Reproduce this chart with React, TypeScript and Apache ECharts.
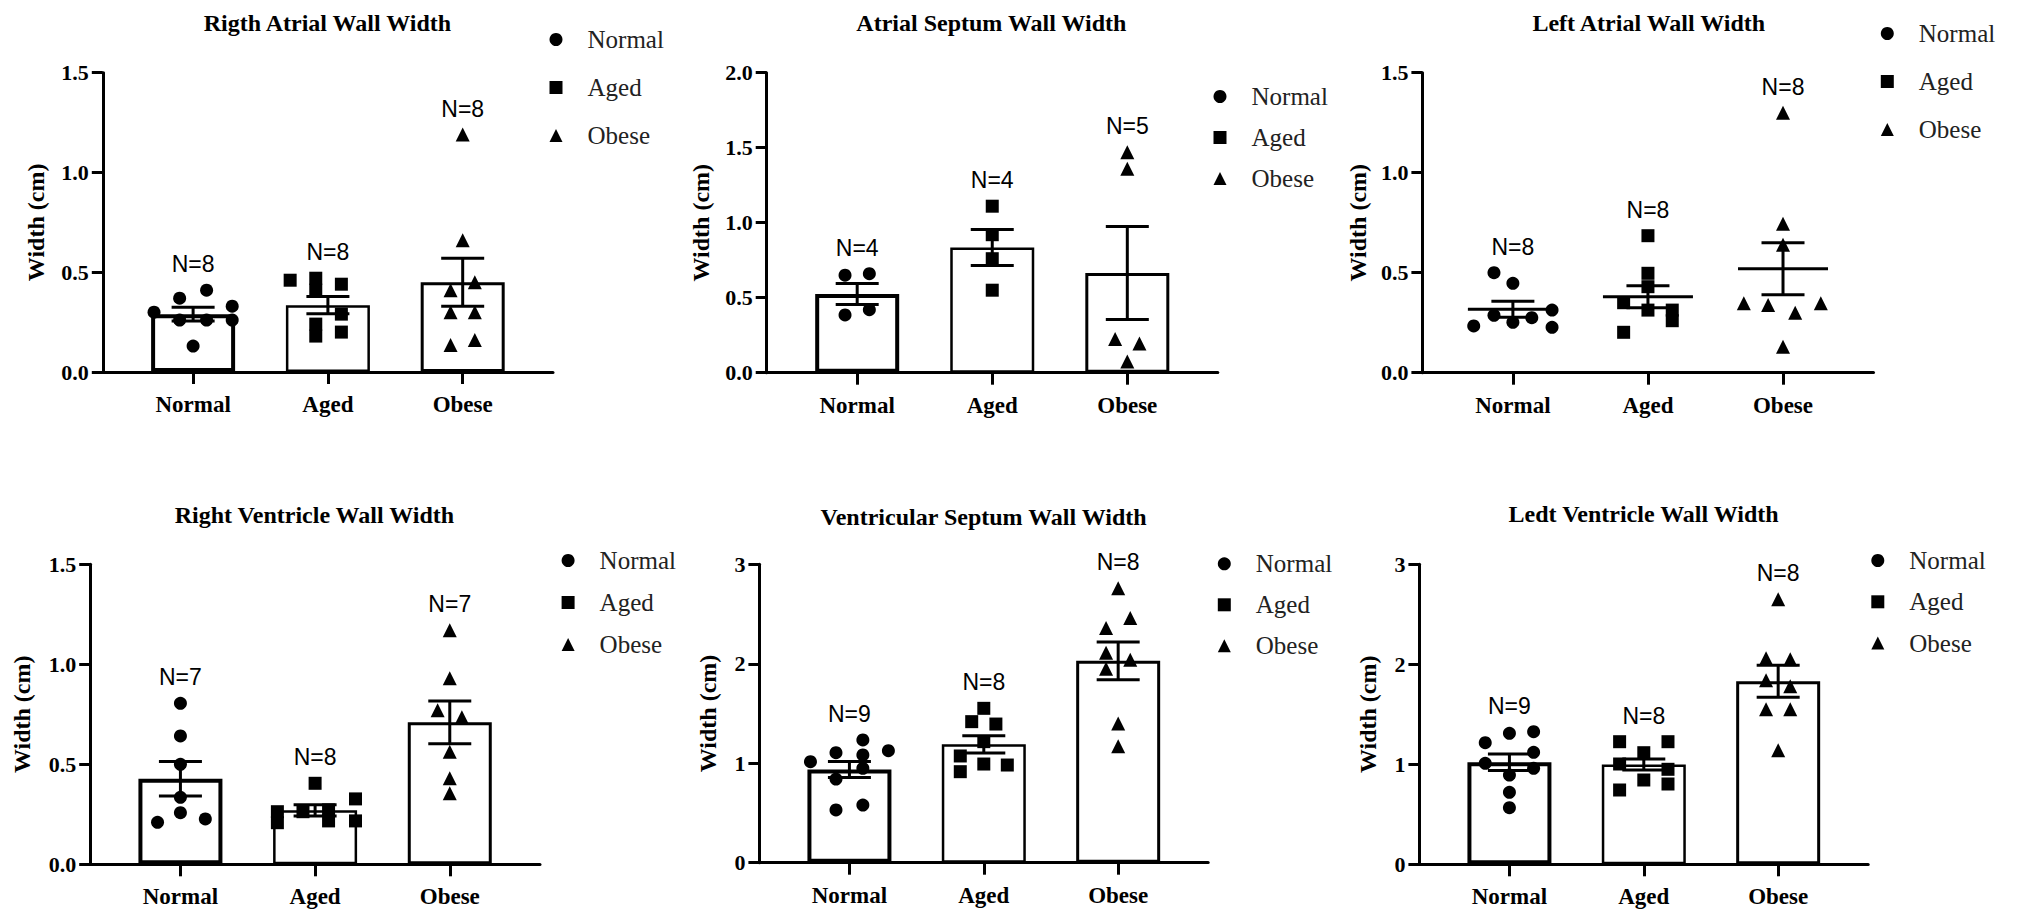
import React, { useEffect, useRef } from "react";
import * as echarts from "echarts";

// ---------- data ----------
const categories = ["Normal", "Aged", "Obese"];
const titles = [
  "Rigth Atrial Wall Width",
  "Atrial Septum Wall Width",
  "Left Atrial Wall Width",
  "Right Ventricle Wall Width",
  "Ventricular Septum Wall Width",
  "Ledt Ventricle Wall Width",
];
const yAxisName = "Width (cm)";

// Rigth Atrial
const ra_normal = [0.3, 0.37, 0.41, 0.33, 0.26, 0.26, 0.26, 0.13];
const ra_normal_jit = [-0.29, -0.1, 0.1, 0.29, -0.1, 0.1, 0.29, 0];
const ra_aged = [0.46, 0.47, 0.41, 0.44, 0.29, 0.24, 0.18, 0.2];
const ra_aged_jit = [-0.28, -0.09, -0.09, 0.1, 0.1, -0.09, -0.09, 0.1];
const ra_obese = [1.19, 0.66, 0.41, 0.45, 0.3, 0.3, 0.135, 0.16];
const ra_obese_jit = [0, 0, -0.09, 0.09, -0.09, 0.09, -0.09, 0.09];
const ra_mean = [0.29, 0.335, 0.45];
const ra_sem = [0.035, 0.043, 0.12];

// Atrial Septum
const as_normal = [0.65, 0.66, 0.385, 0.42];
const as_normal_jit = [-0.09, 0.09, -0.09, 0.09];
const as_aged = [1.11, 0.92, 0.76, 0.55];
const as_aged_jit = [0, 0, 0, 0];
const as_obese = [1.47, 1.36, 0.225, 0.195, 0.075];
const as_obese_jit = [0, 0, -0.09, 0.09, 0];
const as_mean = [0.525, 0.835, 0.665];
const as_sem = [0.07, 0.12, 0.31];

// Left Atrial
const la_normal = [0.234, 0.5, 0.447, 0.287, 0.252, 0.275, 0.313, 0.227];
const la_normal_jit = [-0.29, -0.14, 0, -0.14, 0, 0.14, 0.29, 0.29];
const la_aged = [0.685, 0.497, 0.43, 0.313, 0.35, 0.313, 0.26, 0.202];
const la_aged_jit = [0, 0, 0, 0, -0.18, 0.18, 0.18, -0.18];
const la_obese = [1.3, 0.745, 0.64, 0.347, 0.339, 0.3, 0.347, 0.13];
const la_obese_jit = [0, 0, 0, -0.29, -0.11, 0.09, 0.28, 0];
const la_mean = [0.317, 0.38, 0.52];
const la_sem = [0.04, 0.055, 0.13];

// Right Ventricle
const rv_normal = [0.805, 0.642, 0.5, 0.335, 0.258, 0.21, 0.227];
const rv_normal_jit = [0, 0, 0, 0, 0, -0.17, 0.185];
const rv_aged = [0.405, 0.263, 0.208, 0.263, 0.272, 0.217, 0.327, 0.217];
const rv_aged_jit = [0, -0.28, -0.28, -0.09, 0.1, 0.1, 0.3, 0.3];
const rv_obese = [1.17, 0.93, 0.77, 0.735, 0.563, 0.43, 0.355];
const rv_obese_jit = [0, 0, -0.09, 0.09, 0, 0, 0];
const rv_mean = [0.428, 0.27, 0.71];
const rv_sem = [0.086, 0.028, 0.107];

// Ventricular Septum
const vs_normal = [1.015, 1.106, 1.234, 1.083, 1.126, 0.949, 0.841, 0.53, 0.58];
const vs_normal_jit = [-0.29, -0.1, 0.1, 0.1, 0.29, 0.1, -0.1, -0.1, 0.1];
const vs_aged = [1.552, 1.418, 1.394, 1.217, 1.073, 0.992, 0.982, 0.915];
const vs_aged_jit = [0, -0.09, 0.09, 0, -0.175, 0, 0.175, -0.175];
const vs_obese = [2.76, 2.46, 2.36, 2.11, 2.04, 1.95, 1.4, 1.17];
const vs_obese_jit = [0, 0.09, -0.09, -0.09, 0.09, -0.09, 0, 0];
const vs_mean = [0.937, 1.19, 2.03];
const vs_sem = [0.08, 0.086, 0.19];

// Ledt Ventricle
const lv_normal = [1.216, 1.31, 1.326, 1.12, 1.01, 0.96, 0.893, 0.72, 0.566];
const lv_normal_jit = [-0.18, 0, 0.18, 0.18, -0.18, 0.18, 0, 0, 0];
const lv_aged = [1.226, 1.226, 1.116, 1.003, 0.95, 0.843, 0.803, 0.743];
const lv_aged_jit = [-0.18, 0.18, 0, -0.18, 0.18, 0, 0.18, -0.18];
const lv_obese = [2.65, 2.06, 2.05, 1.84, 1.78, 1.55, 1.55, 1.14];
const lv_obese_jit = [0, -0.09, 0.09, -0.09, 0.09, -0.09, 0.09, 0];
const lv_mean = [1.02, 0.998, 1.83];
const lv_sem = [0.083, 0.055, 0.16];

// y-axis ranges
const yMaxes = [1.5, 2.0, 1.5, 1.5, 3, 3];
const yIntervals = [0.5, 0.5, 0.5, 0.5, 1, 1];
const yDecimals = [1, 1, 1, 1, 0, 0];
const hasBars = [true, true, false, true, true, true];

// ---------- layout / style ----------
const SERIF = '"Liberation Serif", "Times New Roman", serif';
const SANS = '"Liberation Sans", Arial, sans-serif';
const X_MIN = -0.67;
const X_MAX = 2.67;

const layouts = [
  { grid: [102.8, 72.7, 450.2, 299.3], title: [327.4, 23], legend: [556, 39], pitch: 47, nameGap: 55 },
  { grid: [766.7, 72.7, 451.1, 300], title: [991.4, 23], legend: [1220, 96], pitch: 40, nameGap: 54 },
  { grid: [1422.4, 72.7, 451.1, 300], title: [1648.8, 23], legend: [1887.3, 33], pitch: 47, nameGap: 52 },
  { grid: [90.2, 564.3, 449.8, 300], title: [314.4, 515], legend: [568.1, 560], pitch: 41, nameGap: 56 },
  { grid: [759.4, 564.3, 448.8, 298.4], title: [983.6, 516.7], legend: [1224.3, 563.3], pitch: 40, nameGap: 39 },
  { grid: [1419.4, 564.3, 448.8, 300], title: [1643.6, 514.3], legend: [1877.8, 560], pitch: 40.3, nameGap: 39 },
];

const groups = [
  [ra_normal, ra_normal_jit, ra_aged, ra_aged_jit, ra_obese, ra_obese_jit, ra_mean, ra_sem],
  [as_normal, as_normal_jit, as_aged, as_aged_jit, as_obese, as_obese_jit, as_mean, as_sem],
  [la_normal, la_normal_jit, la_aged, la_aged_jit, la_obese, la_obese_jit, la_mean, la_sem],
  [rv_normal, rv_normal_jit, rv_aged, rv_aged_jit, rv_obese, rv_obese_jit, rv_mean, rv_sem],
  [vs_normal, vs_normal_jit, vs_aged, vs_aged_jit, vs_obese, vs_obese_jit, vs_mean, vs_sem],
  [lv_normal, lv_normal_jit, lv_aged, lv_aged_jit, lv_obese, lv_obese_jit, lv_mean, lv_sem],
];

const symbols = ["circle", "rect", "triangle"];
const symbolSizes = [13, 13, 14];
const barBorders = [4, 2.5, 3];

function buildOption() {
  const grid: any[] = [];
  const xAxis: any[] = [];
  const yAxis: any[] = [];
  const title: any[] = [];
  const legend: any[] = [];
  const series: any[] = [];

  layouts.forEach((L, i) => {
    const [normal, normalJit, aged, agedJit, obese, obeseJit, mean, sem] = groups[i] as number[][];
    grid.push({ left: L.grid[0], top: L.grid[1], width: L.grid[2], height: L.grid[3], containLabel: false });
    xAxis.push({
      gridIndex: i,
      type: "value",
      min: X_MIN,
      max: X_MAX,
      axisLine: { show: true, onZero: false, lineStyle: { color: "#000", width: 3 } },
      axisTick: { show: true, length: 12, customValues: [0, 1, 2], lineStyle: { color: "#000", width: 3 } },
      axisLabel: {
        show: true,
        customValues: [0, 1, 2],
        formatter: (v: number) => categories[Math.round(v)] ?? "",
        margin: 21,
        fontFamily: SERIF,
        fontWeight: "bold",
        fontSize: 23,
        color: "#000",
      },
      splitLine: { show: false },
    });
    const dec = yDecimals[i];
    yAxis.push({
      gridIndex: i,
      type: "value",
      min: 0,
      max: yMaxes[i],
      interval: yIntervals[i],
      name: yAxisName,
      nameLocation: "middle",
      nameRotate: 90,
      nameGap: L.nameGap,
      nameTextStyle: { fontFamily: SERIF, fontWeight: "bold", fontSize: 24, color: "#000" },
      axisLine: { show: true, onZero: false, lineStyle: { color: "#000", width: 3 } },
      axisTick: { show: true, length: 11, lineStyle: { color: "#000", width: 3 } },
      axisLabel: {
        margin: 14,
        fontFamily: SERIF,
        fontWeight: "bold",
        fontSize: 22,
        color: "#000",
        formatter: (v: number) => v.toFixed(dec),
      },
      splitLine: { show: false },
    });
    title.push({
      text: titles[i],
      left: L.title[0],
      top: L.title[1] - 12,
      textAlign: "center",
      padding: 0,
      textStyle: { fontFamily: SERIF, fontWeight: "bold", fontSize: 24, lineHeight: 24, color: "#000" },
    });
    legend.push({
      orient: "vertical",
      left: L.legend[0] - 6.5,
      top: L.legend[1] - 12,
      itemGap: L.pitch - 24,
      itemWidth: 13,
      itemHeight: 13,
      padding: 0,
      selectedMode: false,
      data: categories.map((c, k) => ({ name: c, icon: symbols[k] })),
      itemStyle: { color: "#000" },
      textStyle: { fontFamily: SERIF, fontSize: 25, lineHeight: 24, color: "#222", padding: [0, 0, 0, 20] },
    });

    if (hasBars[i]) {
      series.push({
        type: "bar",
        xAxisIndex: i,
        yAxisIndex: i,
        barWidth: 84,
        z: 1,
        silent: true,
        data: mean.map((m, k) => ({
          value: [k, m],
          itemStyle: { color: "#fff", borderColor: "#000", borderWidth: barBorders[k] },
        })),
      });
    }

    const pts = [
      [normal, normalJit],
      [aged, agedJit],
      [obese, obeseJit],
    ];
    pts.forEach(([vals, jit], k) => {
      series.push({
        type: "scatter",
        name: categories[k],
        xAxisIndex: i,
        yAxisIndex: i,
        symbol: symbols[k],
        symbolSize: symbolSizes[k],
        itemStyle: { color: "#000", opacity: 1 },
        z: 3,
        silent: true,
        data: vals.map((v, n) => [k + jit[n], v]),
      });
    });

    const showBars = hasBars[i];
    series.push({
      type: "custom",
      xAxisIndex: i,
      yAxisIndex: i,
      z: 4,
      silent: true,
      clip: false,
      encode: { x: 0, y: 1 },
      data: mean.map((m, k) => [k, m, sem[k]]),
      renderItem: (params: any, api: any) => {
        const x = api.value(0);
        const m = api.value(1);
        const s = api.value(2);
        const c = api.coord([x, m]);
        const hi = api.coord([x, m + s]);
        const lo = api.coord([x, m - s]);
        const style = { stroke: "#000", lineWidth: 3 };
        const cap = 21.5;
        const children: any[] = [
          { type: "line", shape: { x1: c[0], y1: hi[1], x2: c[0], y2: lo[1] }, style },
          { type: "line", shape: { x1: c[0] - cap, y1: hi[1], x2: c[0] + cap, y2: hi[1] }, style },
          { type: "line", shape: { x1: c[0] - cap, y1: lo[1], x2: c[0] + cap, y2: lo[1] }, style },
        ];
        if (!showBars) {
          children.push({ type: "line", shape: { x1: c[0] - 45, y1: c[1], x2: c[0] + 45, y2: c[1] }, style });
        }
        return { type: "group", children };
      },
    });

    // N= labels above each group's highest point
    series.push({
      type: "scatter",
      xAxisIndex: i,
      yAxisIndex: i,
      symbol: "circle",
      symbolSize: 1,
      silent: true,
      z: 5,
      itemStyle: { color: "rgba(0,0,0,0)" },
      label: {
        show: true,
        position: "top",
        distance: 14,
        fontFamily: SANS,
        fontSize: 23,
        color: "#000",
        opacity: 1,
        formatter: (p: any) => "N=" + p.data[2],
      },
      data: pts.map(([vals], k) => [k, Math.max(...vals), vals.length]),
    });
  });

  return {
    animation: false,
    backgroundColor: "#fff",
    title,
    legend,
    grid,
    xAxis,
    yAxis,
    series,
  };
}

export default function App() {
  const ref = useRef<HTMLDivElement>(null);
  useEffect(() => {
    if (!ref.current) return;
    const chart = echarts.init(ref.current, undefined, { renderer: "svg" });
    chart.setOption(buildOption() as any);
    return () => chart.dispose();
  }, []);
  return (
    <div
      ref={ref}
      style={{ position: "fixed", left: 0, top: 0, width: 2020, height: 910, background: "#fff" }}
    />
  );
}
